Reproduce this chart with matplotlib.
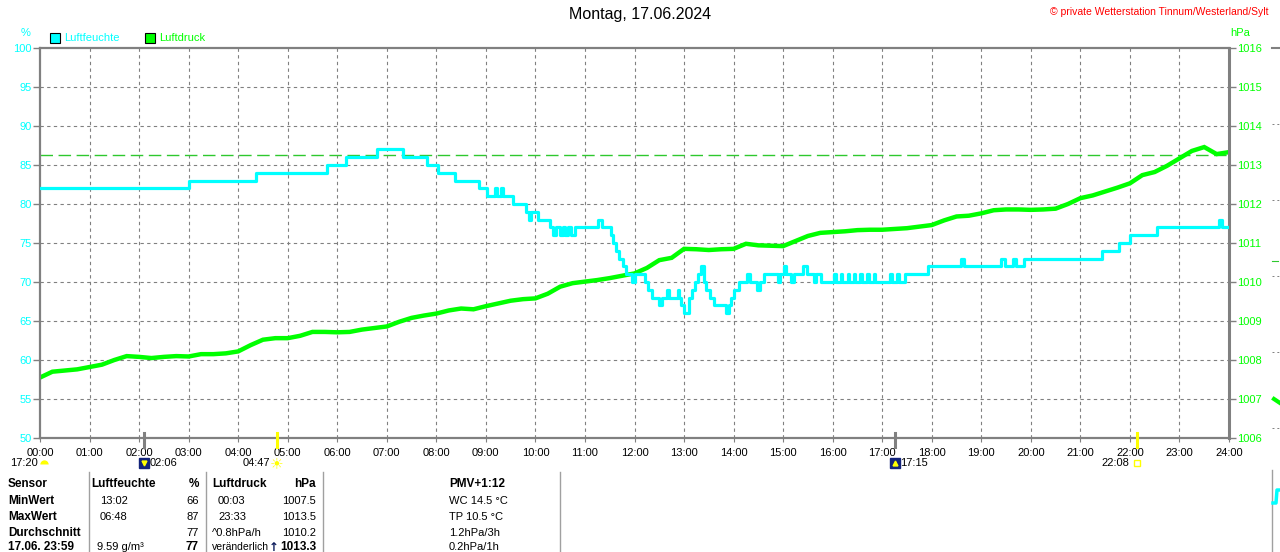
import numpy as np
import matplotlib
matplotlib.use('Agg')
from matplotlib import pyplot as plt
from matplotlib.lines import Line2D

plt.rcParams['font.family'] = ['Liberation Sans', 'DejaVu Sans']

# Luftfeuchte (%) - Stufenwerte, Zeit in Stunden
hum_t = [0.00, 3.00, 4.37, 5.80, 6.18, 6.80, 7.33, 7.82, 8.04, 8.38,
         8.86, 9.02, 9.18, 9.22, 9.30, 9.35, 9.54, 9.81, 9.88, 9.92,
         10.06, 10.29, 10.36, 10.42, 10.49, 10.55, 10.60, 10.66, 10.72, 10.79,
         11.27, 11.34, 11.53, 11.57, 11.62, 11.68, 11.76, 11.82, 11.94, 12.02,
         12.22, 12.28, 12.36, 12.50, 12.56, 12.66, 12.70, 12.87, 12.90, 12.94,
         12.99, 13.10, 13.16, 13.22, 13.28, 13.34, 13.40, 13.45, 13.52, 13.60,
         13.84, 13.90, 13.95, 14.01, 14.10, 14.28, 14.33, 14.48, 14.54, 14.62,
         14.90, 14.94, 15.02, 15.06, 15.15, 15.21, 15.40, 15.48, 15.62, 15.67,
         15.77, 16.03, 16.06, 16.16, 16.19, 16.30, 16.33, 16.43, 16.46, 16.56,
         16.59, 16.70, 16.73, 16.83, 16.86, 17.16, 17.19, 17.30, 17.33, 17.47,
         17.93, 18.60, 18.65, 19.40, 19.47, 19.63, 19.70, 19.87, 21.43, 21.77,
         22.00, 22.55, 23.80, 23.86, 24.00]
hum_v = [82, 83, 84, 85, 86, 87, 86, 85, 84, 83,
         82, 81, 82, 81, 82, 81, 80, 79, 78, 79,
         78, 77, 76, 77, 76, 77, 76, 77, 76, 77,
         78, 77, 76, 75, 74, 73, 72, 71, 70, 71,
         70, 69, 68, 67, 68, 69, 68, 69, 68, 67,
         66, 68, 69, 70, 71, 72, 70, 69, 68, 67,
         66, 67, 68, 69, 70, 71, 70, 69, 70, 71,
         70, 71, 72, 71, 70, 71, 72, 71, 70, 71,
         70, 71, 70, 71, 70, 71, 70, 71, 70, 71,
         70, 71, 70, 71, 70, 71, 70, 71, 70, 71,
         72, 73, 72, 73, 72, 73, 72, 73, 74, 75,
         76, 77, 78, 77, 77]

# Luftdruck (hPa) alle 15 Minuten
druck = [1007.55, 1007.70, 1007.73, 1007.76, 1007.82, 1007.88, 1008.00, 1008.10,
         1008.08, 1008.05, 1008.08, 1008.10, 1008.09, 1008.15, 1008.15, 1008.17,
         1008.22, 1008.38, 1008.52, 1008.56, 1008.56, 1008.62, 1008.72, 1008.72,
         1008.71, 1008.72, 1008.78, 1008.82, 1008.86, 1008.98, 1009.08, 1009.14,
         1009.19, 1009.27, 1009.32, 1009.30, 1009.38, 1009.45, 1009.52, 1009.56,
         1009.58, 1009.70, 1009.88, 1009.97, 1010.01, 1010.05, 1010.10, 1010.16,
         1010.22, 1010.36, 1010.56, 1010.62, 1010.85, 1010.84, 1010.82, 1010.84,
         1010.85, 1010.98, 1010.94, 1010.93, 1010.92, 1011.05, 1011.18, 1011.26,
         1011.28, 1011.30, 1011.33, 1011.34, 1011.34, 1011.36, 1011.38, 1011.42,
         1011.46, 1011.58, 1011.68, 1011.70, 1011.76, 1011.84, 1011.86, 1011.86,
         1011.85, 1011.86, 1011.88, 1012.00, 1012.15, 1012.22, 1012.32, 1012.42,
         1012.53, 1012.74, 1012.82, 1012.98, 1013.17, 1013.36, 1013.46, 1013.28,
         1013.33]
druck_t = np.arange(len(druck)) * 0.25
normal_druck = 1013.25

stunden = list(range(25))
stunden_labels = ['%02d:00' % h for h in stunden]

# Mond/Sonne: Zeit, Text, Art
ereignis_t = [2.10, 4.783, 17.25, 22.133]
ereignis_txt = ['02:06', '04:47', '17:15', '22:08']
ereignis_art = ['mond_unter', 'sonne_auf', 'mond_auf', 'sonne_unter']

tab_kopf = ['Sensor', 'Luftfeuchte', '%', 'Luftdruck', 'hPa']
tab_namen = ['MinWert', 'MaxWert', 'Durchschnitt', '17.06. 23:59']
tab_lf_zeit = ['13:02', '06:48', '', '9.59 g/m\u00b3']
tab_lf_wert = ['66', '87', '77', '77']
tab_ld_zeit = ['00:03', '23:33', '^0.8hPa/h', 'veränderlich']
tab_ld_wert = ['1007.5', '1013.5', '1010.2', '1013.3']
extra = ['PMV+1:12', 'WC 14.5 °C', 'TP 10.5 °C', '1.2hPa/3h', '0.2hPa/1h']

CYAN = '#00ffff'
GRUEN = '#00ff00'
GRAU = '#808080'


def fx(x):
    return x / 1280


def fy(y):
    return 1 - y / 552


fig = plt.figure(figsize=(12.8, 5.52), dpi=100)
ax = fig.add_axes([fx(40), fy(438), 1189 / 1280, 390 / 552])
ax2 = ax.twinx()
ax.set_zorder(2)
ax2.set_zorder(1)
ax.patch.set_visible(False)
ax2.patch.set_visible(True)
ax2.patch.set_facecolor('white')

ax.set_xlim(0, 24)
ax.set_ylim(50, 100)
ax2.set_ylim(1006, 1016)

# Gitter auf der unteren Achse
for h in stunden[1:-1]:
    ax2.axvline(h, color=GRAU, lw=0.8, ls=(0, (3, 3)), zorder=0)
for p in range(1007, 1016):
    ax2.axhline(p, color=GRAU, lw=0.8, ls=(0, (3, 3)), zorder=0)
ax2.axhline(normal_druck, color='#2ec82e', lw=1.0, ls=(0, (9, 4)), zorder=1)

ax2.plot(druck_t, druck, color=GRUEN, lw=3.2, zorder=2, solid_joinstyle='miter')
ax.step(hum_t, hum_v, where='post', color=CYAN, lw=2.3, zorder=3)

ax.set_xticks(stunden)
ax.set_xticklabels(stunden_labels)
ax.set_yticks(range(50, 101, 5))
ax2.set_yticks(range(1006, 1017))
ax.tick_params(axis='x', colors=GRAU, labelcolor='black', length=3, pad=4, labelsize=8)
ax.tick_params(axis='y', colors=GRAU, labelcolor=CYAN, length=5, pad=1, labelsize=8, width=1)
ax2.tick_params(axis='y', colors=GRAU, labelcolor=GRUEN, length=5, pad=1, labelsize=8, width=1)

for s in ax2.spines.values():
    s.set_visible(False)
for name, s in ax.spines.items():
    s.set_color(GRAU)
    s.set_linewidth(1.6)
ax.spines['right'].set_linewidth(2.2)

# Markierungen Mond/Sonne
trans = ax.get_xaxis_transform()
for t, txt, art in zip(ereignis_t, ereignis_txt, ereignis_art):
    farbe = '#ffff00' if art.startswith('sonne') else GRAU
    ax.plot([t, t], [-0.023, 0.013], color=farbe, lw=2.2, transform=trans, clip_on=False, zorder=5)
    if art == 'mond_unter' or art == 'mond_auf':
        ax.plot([t], [-0.064], marker='s', ms=7, color='#12237a', transform=trans, clip_on=False)
        ax.plot([t], [-0.064], marker='v' if art == 'mond_unter' else '^', ms=3.5,
                color='#ffff00', transform=trans, clip_on=False)
        ax.annotate(txt, (t, -0.064), xycoords=trans, xytext=(4, 0), textcoords='offset points',
                    ha='left', va='center', fontsize=8, annotation_clip=False)
    elif art == 'sonne_auf':
        ax.text(t, -0.066, '\u2600', transform=trans, ha='center', va='center',
                fontsize=11, color='#ffff00', family='DejaVu Sans')
        ax.annotate(txt, (t, -0.064), xycoords=trans, xytext=(-5, 0), textcoords='offset points',
                    ha='right', va='center', fontsize=8, annotation_clip=False)
    else:
        ax.plot([t], [-0.064], marker='s', ms=4.5, mfc='none', mec='#ffff00', mew=1,
                transform=trans, clip_on=False)
        ax.annotate(txt, (t, -0.064), xycoords=trans, xytext=(-5, 0), textcoords='offset points',
                    ha='right', va='center', fontsize=8, annotation_clip=False)

fig.text(fx(10), fy(463), '17:20', fontsize=8, va='center')
fig.add_artist(Line2D([fx(44)], [fy(464)], marker='o', ms=6, fillstyle='top', color='#ffff00',
                      markerfacecoloralt='none', mec='none', transform=fig.transFigure))

# Titel und Legende
fig.text(0.5, fy(15), 'Montag, 17.06.2024', ha='center', va='center', fontsize=11.5)
fig.text(fx(1268), fy(12), '\u00a9 private Wetterstation Tinnum/Westerland/Sylt',
         ha='right', va='center', fontsize=7.5, color='#ff0000')
fig.text(fx(26), fy(33), '%', ha='center', va='center', fontsize=8, color=CYAN)
fig.text(fx(1240), fy(33), 'hPa', ha='center', va='center', fontsize=8, color=GRUEN)
for x0, farbe, name in [(55, CYAN, 'Luftfeuchte'), (150, GRUEN, 'Luftdruck')]:
    fig.add_artist(Line2D([fx(x0)], [fy(38)], marker='s', ms=7, mfc=farbe, mec='black', mew=0.8,
                          transform=fig.transFigure))
    fig.text(fx(x0 + 9), fy(38), name, va='center', fontsize=8, color=farbe)

# Tabelle
zeilen_y = [484, 500.5, 516.5, 532.5, 547.5]
for x in [88.5, 205.5, 323, 559.5]:
    fig.add_artist(Line2D([fx(x), fx(x)], [fy(472), fy(552)], color='#a0a0a0', lw=1,
                          transform=fig.transFigure))
kopf_x = [(8, 'left'), (91, 'left'), (199, 'right'), (212, 'left'), (316, 'right')]
for (x, ha), txt in zip(kopf_x, tab_kopf):
    fig.text(fx(x), fy(zeilen_y[0]), txt, ha=ha, va='center', fontsize=8.5, weight='bold')
for i in range(4):
    y = fy(zeilen_y[i + 1])
    letzte = i == 3
    fig.text(fx(8), y, tab_namen[i], va='center', fontsize=8.5, weight='bold')
    fig.text(fx(97 if letzte else 100), y, tab_lf_zeit[i], va='center', fontsize=8)
    fig.text(fx(199), y, tab_lf_wert[i], ha='right', va='center', fontsize=8.5 if letzte else 8,
             weight='bold' if letzte else 'normal')
    fig.text(fx(212 if i >= 2 else 218), y, tab_ld_zeit[i], va='center',
             fontsize=7.5 if letzte else 8)
    fig.text(fx(316), y, tab_ld_wert[i], ha='right', va='center', fontsize=8.5 if letzte else 8,
             weight='bold' if letzte else 'normal')
fig.text(fx(274), fy(zeilen_y[4]), '\u2191', ha='center', va='center', fontsize=8.5,
         weight='bold', color='#0a1a5a', family='DejaVu Sans')
for i, txt in enumerate(extra):
    fig.text(fx(449), fy(zeilen_y[i]), txt, va='center', fontsize=8.5 if i == 0 else 8,
             weight='bold' if i == 0 else 'normal')

# Reste des naechsten Diagramms am rechten Rand
fig.add_artist(Line2D([fx(1272), fx(1280)], [fy(47.5), fy(47.5)], color=GRAU, lw=1.5,
                      transform=fig.transFigure))
for y in [124, 200, 276, 352, 428]:
    fig.add_artist(Line2D([fx(1272), fx(1280)], [fy(y), fy(y)], color=GRAU, lw=0.7,
                          ls=(0, (2, 3)), transform=fig.transFigure))
fig.add_artist(Line2D([fx(1272), fx(1278)], [fy(261), fy(261)], color='#2ec82e', lw=0.8,
                      transform=fig.transFigure))
fig.add_artist(Line2D([fx(1274), fx(1280)], [fy(399), fy(403)], color=GRUEN, lw=3,
                      transform=fig.transFigure))
fig.add_artist(Line2D([fx(1271.5), fx(1271.5)], [fy(470), fy(552)], color='#a0a0a0', lw=1,
                      transform=fig.transFigure))
fig.add_artist(Line2D([fx(1273), fx(1276), fx(1277), fx(1280)], [fy(503), fy(503), fy(490), fy(490)],
                      color=CYAN, lw=2.5, transform=fig.transFigure))

fig.savefig('out.png', dpi=100)
